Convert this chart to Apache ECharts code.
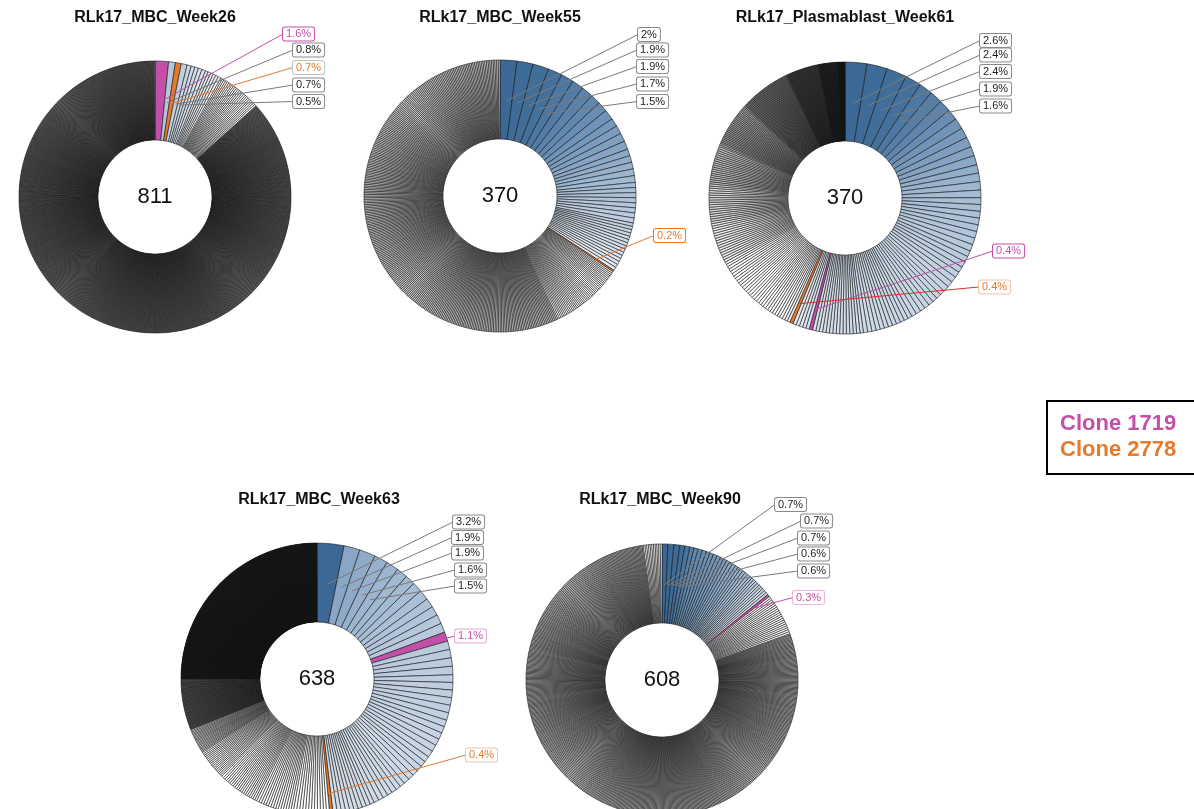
<!DOCTYPE html>
<html>
<head>
<meta charset="utf-8">
<script src="https://cdn.jsdelivr.net/npm/echarts@6/dist/echarts.min.js"></script>
<style>
  html, body { margin: 0; padding: 0; background: #ffffff; }
  #chart { width: 1194px; height: 809px; }
</style>
</head>
<body>
<div id="chart"></div>
<script>
// ---- data -------------------------------------------------------------
const panelTitles = ['RLk17_MBC_Week26', 'RLk17_MBC_Week55', 'RLk17_Plasmablast_Week61',
                     'RLk17_MBC_Week63', 'RLk17_MBC_Week90'];
const cloneTotals = [811, 370, 370, 638, 608];
const trackedClones = ['1719', '2778'];
const legendLabels = ['Clone 1719', 'Clone 2778'];

// clone frequencies (% of sequences) in clockwise plotting order:
// [percent, number of clones with that frequency, tracked clone id]
const week26Freq = [[1.6, 1, '1719'], [0.8, 1], [0.7, 1, '2778'], [0.7, 1], [0.5, 1],
  [0.44, 4], [0.33, 6], [0.22, 24], [0.112, 774]];
const week55Freq = [[2, 1], [1.9, 2], [1.7, 1], [1.5, 1], [1.4, 2], [1.2, 3], [1.0, 4], [0.8, 5],
  [0.6, 8], [0.4, 15], [0.2, 1, '2778'], [0.2, 328]];
const week61Freq = [[2.6, 1], [2.4, 2], [1.9, 1], [1.6, 1], [1.5, 1], [1.4, 1], [1.3, 2], [1.2, 2],
  [1.1, 2], [1.0, 3], [0.9, 1], [0.8, 8], [0.7, 8], [0.6, 8], [0.5, 12], [0.4, 15], [0.4, 1, '1719'],
  [0.4, 5], [0.4, 1, '2778'], [0.33, 30], [0.3, 16], [0.28, 17], [0.25, 20], [0.2, 27], [0.15, 41],
  [0.11, 36], [0.08, 30], [0.05, 17]];
const week63Freq = [[3.2, 1], [1.9, 2], [1.6, 1], [1.5, 1], [1.3, 1], [1.2, 3], [1.1, 4], [1.1, 1, '1719'],
  [1.0, 4], [0.9, 6], [0.8, 6], [0.7, 6], [0.6, 7], [0.5, 10], [0.4, 1, '2778'], [0.36, 12], [0.3, 15],
  [0.25, 20], [0.2, 18], [0.15, 20], [0.1, 61], [0.06, 416]];
const week90Freq = [[0.7, 3], [0.6, 2], [0.5, 4], [0.45, 4], [0.4, 5], [0.35, 6], [0.3, 10],
  [0.3, 1, '1719'], [0.25, 20], [0.146, 537], [0.2, 11]];

const panelFreqs = [week26Freq, week55Freq, week61Freq, week63Freq, week90Freq];

// ---- layout and styling ----------------------------------------------
const FONT = '"Liberation Sans", Arial, Helvetica, sans-serif';
const trackedColor = { '1719': '#c44fa8', '2778': '#e8792b' };
const INNER = 57, OUTER = 136;

// stops: blue ramp by slice position; tail: flat fills from a slice position onwards
const panelLayout = [
  { center: [155, 197], title: [155, 18],
    stops: [[1, '#b3c6db'], [4, '#c7d5e4'], [8, '#dbe4ee'], [14, '#f0f3f7']],
    tail: [[15, '#ffffff'], [39, '#8a8a8a']],
    spots: [[283, 34], [293, 50], [293, 67.5], [293, 85], [293, 101.5]] },
  { center: [500, 196], title: [500, 18],
    stops: [[0, '#3b6894'], [3, '#44719c'], [9, '#6f93b9'], [18, '#a3bad3'], [30, '#cbd8e6'], [41, '#e6ecf3']],
    tail: [[43, '#ffffff'], [86, '#cdcdcd']],
    spots: [[638, 34.5], [637, 50], [637, 66.5], [637, 84], [637, 101.5], [654, 235.5]] },
  { center: [845, 198], title: [845, 18],
    stops: [[0, '#3b6894'], [3, '#44719c'], [8, '#7193b8'], [16, '#a6bcd4'], [30, '#c3d2e2'],
            [70, '#d9e2ec'], [76, '#eef1f4']],
    tail: [[77, '#ffffff'], [107, '#ececec'], [123, '#dadada'], [140, '#c4c4c4'], [160, '#a4a4a4'],
           [187, '#7c7c7c'], [228, '#4c4c4c'], [264, '#1e1e1e'], [294, '#000000']],
    spots: [[980, 40.5], [980, 55], [980, 71.5], [980, 89], [980, 106], [993, 251], [979, 287]] },
  { center: [317, 679], title: [319, 500],
    stops: [[0, '#3b6894'], [1, '#8aa6c6'], [4, '#9db5d0'], [12, '#b8c9dc'], [30, '#c9d6e4'], [52, '#d5dfe9']],
    tail: [[54, '#ffffff'], [139, '#8a8a8a'], [200, '#000000']],
    spots: [[453, 522], [452, 537.5], [452, 553], [455, 570], [455, 586], [455, 636], [466, 755]] },
  { center: [662, 680], title: [660, 500],
    stops: [[0, '#3a6793'], [3, '#3f6c97'], [6, '#5e87ae'], [14, '#7e9ec1'], [23, '#a9bfd6'], [33, '#d6e0ea']],
    tail: [[35, '#ffffff'], [55, '#e4e4e4'], [592, '#ffffff']],
    spots: [[775, 504.5], [801, 521], [798, 538], [798, 554], [798, 571], [793, 597.5]] }
];

const trackedLabelStyle = [
  { '1719': { text: '#c44fa8', border: '#c44fa8', line: '#c44fa8' }, '2778': { text: '#e8792b', border: '#b9c9c2', line: '#e8792b' } },
  { '2778': { text: '#e8792b', border: '#e8792b', line: '#e8792b' } },
  { '1719': { text: '#c44fa8', border: '#c44fa8', line: '#c44fa8' }, '2778': { text: '#e8792b', border: '#efc3a6', line: '#e0302a' } },
  { '1719': { text: '#c44fa8', border: '#e3a8d6', line: '#c44fa8' }, '2778': { text: '#e8792b', border: '#efc3a6', line: '#e8792b' } },
  { '1719': { text: '#c44fa8', border: '#e8b5de', line: '#c44fa8' } }
];

// ---- helpers ---------------------------------------------------------
function expand(groups) {
  const out = [];
  groups.forEach(function (g) {
    for (let k = 0; k < g[1]; k++) out.push({ value: g[0], clone: g[2] || null });
  });
  return out;
}
function hexToRgb(h) {
  const n = parseInt(h.slice(1), 16);
  return [(n >> 16) & 255, (n >> 8) & 255, n & 255];
}
function shadeAt(stops, i) {
  if (i <= stops[0][0]) return stops[0][1];
  const last = stops[stops.length - 1];
  if (i >= last[0]) return last[1];
  for (let s = 0; s < stops.length - 1; s++) {
    const a = stops[s], b = stops[s + 1];
    if (i >= a[0] && i <= b[0]) {
      const t = (i - a[0]) / (b[0] - a[0]);
      const ca = hexToRgb(a[1]), cb = hexToRgb(b[1]);
      const c = ca.map(function (v, k) { return Math.round(v + (cb[k] - v) * t); });
      return 'rgb(' + c.join(',') + ')';
    }
  }
  return '#ffffff';
}
function fillFor(lay, i) {
  let c = null;
  lay.tail.forEach(function (t) { if (i >= t[0]) c = t[1]; });
  return c || shadeAt(lay.stops, i);
}

// ---- build series ----------------------------------------------------
const series = [];
const graphics = [];

panelFreqs.forEach(function (groups, p) {
  const slices = expand(groups);
  const lay = panelLayout[p];

  // ring of clones
  series.push({
    type: 'pie', center: lay.center, radius: [INNER, OUTER], startAngle: 90, clockwise: true,
    silent: true, animation: false, avoidLabelOverlap: false, z: 2,
    label: { show: false }, labelLine: { show: false }, emphasis: { disabled: true },
    data: slices.map(function (s, i) {
      return {
        value: s.value,
        itemStyle: {
          color: s.clone ? trackedColor[s.clone] : fillFor(lay, i),
          borderColor: '#151515', borderWidth: 0.6
        }
      };
    })
  });

  // label carriers: top five clones and the tracked clones
  const labelled = [];
  slices.forEach(function (s, i) { if (i < 5 || s.clone) labelled.push(i); });
  const spotOf = {};
  labelled.forEach(function (idx, k) { spotOf[idx] = lay.spots[k]; });

  function carrier(outerR, pick) {
    return {
      type: 'pie', center: lay.center, radius: [INNER, outerR], startAngle: 90, clockwise: true,
      silent: true, animation: false, avoidLabelOverlap: false, z: 4,
      emphasis: { disabled: true },
      label: { show: false }, labelLine: { show: false },
      data: slices.map(function (s, i) {
        const item = { value: s.value, itemStyle: { color: 'rgba(0,0,0,0)', borderWidth: 0 } };
        if (pick(s, i)) {
          const st = s.clone ? trackedLabelStyle[p][s.clone] : { text: '#1e1e1e', border: '#8a8a8a', line: '#7a7a7a' };
          item.label = {
            show: true, formatter: '{c}%', color: st.text, fontSize: 11, fontFamily: FONT,
            lineHeight: 12, backgroundColor: '#ffffff', borderColor: st.border, borderWidth: 1,
            borderRadius: 2, padding: [1, 3, 0, 3]
          };
          item.labelLine = { show: true, length: 4, length2: 0, lineStyle: { color: st.line, width: 1 } };
        }
        return item;
      }),
      labelLayout: function (params) {
        const spot = spotOf[params.dataIndex];
        if (!spot) return {};
        const pts = params.labelLinePoints;
        const res = { x: spot[0], y: spot[1], align: 'left', verticalAlign: 'middle' };
        if (pts && pts.length) res.labelLinePoints = [pts[0], pts[0], [spot[0], spot[1]]];
        return res;
      }
    };
  }
  series.push(carrier(95, function (s, i) { return i < 5; }));
  series.push(carrier(115, function (s, i) { return i >= 5 && !!s.clone; }));

  graphics.push({
    type: 'text', x: lay.title[0], y: lay.title[1], z: 10,
    style: { text: panelTitles[p], fill: '#111', font: 'bold 16px ' + FONT, align: 'center', verticalAlign: 'middle' }
  });
  graphics.push({
    type: 'text', x: lay.center[0], y: lay.center[1], z: 10,
    style: { text: String(cloneTotals[p]), fill: '#111', font: '22px ' + FONT, align: 'center', verticalAlign: 'middle' }
  });
});

// legend of tracked clones
graphics.push({
  type: 'rect', z: 10, shape: { x: 1047, y: 401, width: 160, height: 73 },
  style: { fill: '#ffffff', stroke: '#000', lineWidth: 2 }
});
legendLabels.forEach(function (txt, k) {
  graphics.push({
    type: 'text', x: 1060, y: 424 + k * 26, z: 11,
    style: { text: txt, fill: trackedColor[trackedClones[k]], font: 'bold 22px ' + FONT, align: 'left', verticalAlign: 'middle' }
  });
});

const chart = echarts.init(document.getElementById('chart'), null, { renderer: 'canvas' });
chart.setOption({
  backgroundColor: '#ffffff',
  animation: false,
  series: series,
  graphic: graphics
});
</script>
</body>
</html>
